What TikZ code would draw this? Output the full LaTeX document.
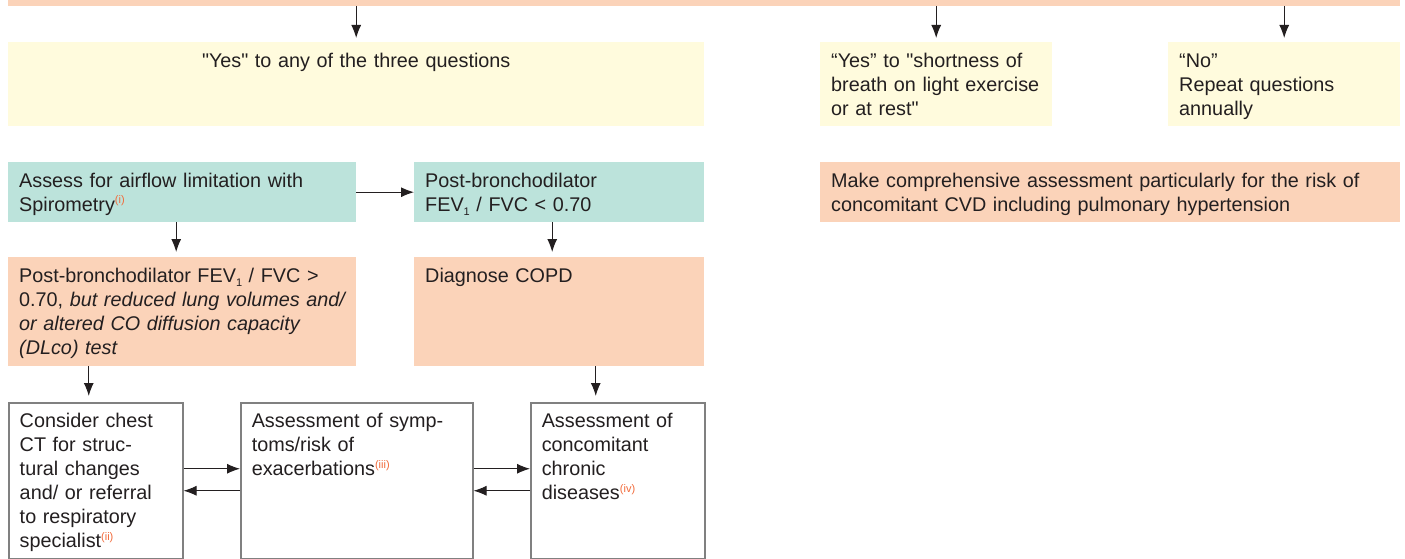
\documentclass[tikz,border=0pt]{standalone}
\usepackage{fontspec}
\setmainfont{Liberation Sans}
\usetikzlibrary{arrows.meta,positioning,calc}
\usepackage{xcolor}
\definecolor{peach}{RGB}{251,211,185}
\definecolor{mint}{RGB}{188,227,219}
\definecolor{cream}{RGB}{255,251,221}
\definecolor{framegray}{RGB}{128,128,128}
\definecolor{arrowdark}{RGB}{35,31,32}
\definecolor{noteorange}{RGB}{242,106,58}
\newcommand{\refnote}[1]{{\color{noteorange}\raisebox{7.5pt}{\fontsize{11}{11}\selectfont(#1)}}}
\newcommand{\sub}[1]{\raisebox{-4pt}{\fontsize{11}{11}\selectfont #1}}
\newcommand{\qt}{\textquotedbl}
% lines are set as given, without re-wrapping
\newcommand{\lines}[1]{\hbox to 0pt{\parbox[t]{700pt}{\raggedright #1}\hss}}

\begin{document}
\begin{tikzpicture}[
    x=1pt, y=-1pt,
    every node/.style={font=\fontsize{19.8}{24}\selectfont, text=arrowdark},
    cell/.style 2 args={anchor=north west, align=left, text width=#1, text height=14pt, text depth=#2, inner xsep=11pt, inner ysep=11pt},
    question/.style={fill=cream},
    spirobox/.style={fill=mint},
    result/.style={fill=peach},
    assess/.style={draw=framegray, line width=1.5pt, fill=white},
    arr/.style={draw=arrowdark, line width=1pt, -{Latex[length=13pt,width=10pt]}}
]

% Page frame
\fill[white] (0,0) rectangle (1405,559);
\useasboundingbox (0,0) rectangle (1405,559);
\clip (0,0) rectangle (1405,559);

% Screening bar (cut off at the top)
\node[result, anchor=south west, minimum width=1392pt, minimum height=30pt, inner sep=0pt] (screen) at (8,6) {};

% Answers
\node[cell={674pt}{48pt}, question, align=center] (yesAny) at (8,42) {\qt Yes\qt{} to any of the three questions};
\node[cell={210pt}{48pt}, question] (yesBreath) at (820,42) {\lines{“Yes” to \qt shortness of\\breath on light exercise\\or at rest\qt}};
\node[cell={210pt}{48pt}, question] (noAnnual) at (1168,42) {\lines{“No”\\Repeat questions\\annually}};

\foreach \n in {yesAny, yesBreath, noAnnual}
    \draw[arr, shorten >=4pt] (screen.south -| \n.north) -- (\n.north);

% Spirometry
\node[cell={326pt}{24pt}, spirobox] (spiro) at (8,162) {\lines{Assess for airflow limitation with\\Spirometry\refnote{i}}};
\node[cell={268pt}{24pt}, spirobox] (postFev) at (414,162) {\lines{Post-bronchodilator\\FEV\sub{1} / FVC < 0.70}};
\draw[arr] (spiro.east) -- (postFev.west);

% Outcomes
\node[cell={326pt}{73pt}, result] (restrict) at (8,257) {\lines{Post-bronchodilator FEV\sub{1} / FVC >\\0.70, \textit{but reduced lung volumes and/}\\\textit{or altered CO diffusion capacity}\\\textit{(DLco) test}}};
\node[cell={268pt}{73pt}, result] (diagnose) at (414,257) {\lines{Diagnose COPD}};
\node[cell={558pt}{24pt}, result] (cvd) at (820,162) {\lines{Make comprehensive assessment particularly for the risk of\\concomitant CVD including pulmonary hypertension}};

\draw[arr, shorten >=5pt] ([xshift=-6pt]spiro.south) -- ([xshift=-6pt]spiro.south |- restrict.north);
\draw[arr, shorten >=5pt] ([xshift=-7pt]postFev.south) -- ([xshift=-7pt]postFev.south |- diagnose.north);

% Assessment boxes
\node[cell={152pt}{120pt}, assess] (chestCT) at (8,402) {\lines{Consider chest\\CT for struc-\\tural changes\\and/ or referral\\to respiratory\\specialist\refnote{ii}}};
\node[cell={210pt}{120pt}, assess] (symptoms) at (240,402) {\lines{Assessment of symp-\\toms/risk of\\exacerbations\refnote{iii}}};
\node[cell={152pt}{120pt}, assess] (comorb) at (530,402) {\lines{Assessment of\\concomitant\\chronic\\diseases\refnote{iv}}};

\draw[arr, shorten >=6pt] ([xshift=-7pt]chestCT.north |- restrict.south) -- ([xshift=-7pt]chestCT.north);
\draw[arr, shorten >=6pt] ([xshift=-22pt]comorb.north |- diagnose.south) -- ([xshift=-22pt]comorb.north);

\draw[arr] ([yshift=12pt]chestCT.east) -- ([yshift=12pt]symptoms.west);
\draw[arr] ([yshift=-10pt]symptoms.west) -- ([yshift=-10pt]chestCT.east);
\draw[arr] ([yshift=12pt]symptoms.east) -- ([yshift=12pt]comorb.west);
\draw[arr] ([yshift=-10pt]comorb.west) -- ([yshift=-10pt]symptoms.east);

\end{tikzpicture}
\end{document}
